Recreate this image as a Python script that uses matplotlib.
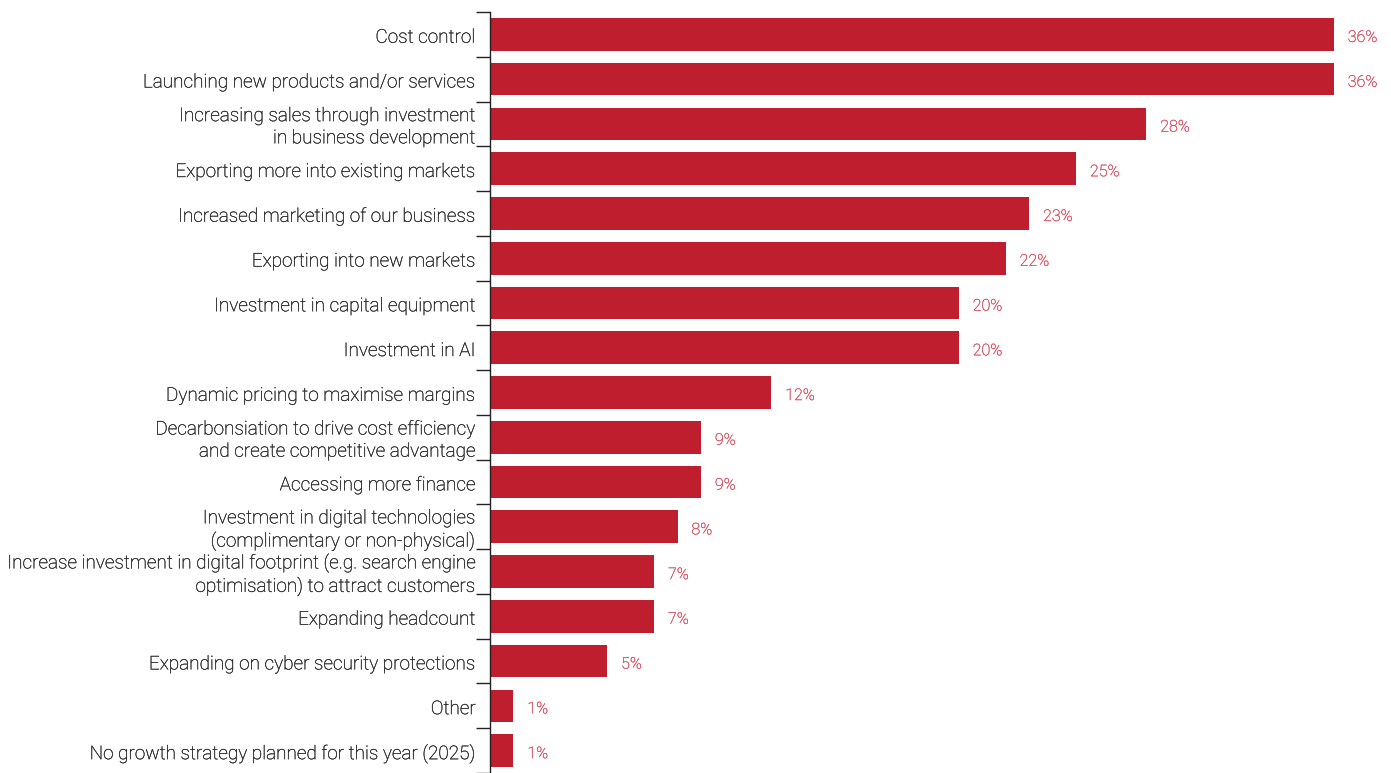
import matplotlib
matplotlib.use("Agg")
import matplotlib.pyplot as plt
import matplotlib.patheffects as pe
import numpy as np

categories = [
    "Cost control",
    "Launching new products and/or services",
    "Increasing sales through investment\nin business development",
    "Exporting more into existing markets",
    "Increased marketing of our business",
    "Exporting into new markets",
    "Investment in capital equipment",
    "Investment in AI",
    "Dynamic pricing to maximise margins",
    "Decarbonsiation to drive cost efficiency\nand create competitive advantage",
    "Accessing more finance",
    "Investment in digital technologies\n(complimentary or non-physical)",
    "Increase investment in digital footprint (e.g. search engine\noptimisation) to attract customers",
    "Expanding headcount",
    "Expanding on cyber security protections",
    "Other",
    "No growth strategy planned for this year (2025)",
]
values = [36, 36, 28, 25, 23, 22, 20, 20, 12, 9, 9, 8, 7, 7, 5, 1, 1]

bar_color = "#BE1E2D"
value_color = "#D6495A"
text_color = "#2A2A2A"

plt.rcParams['font.family'] = ['Roboto', 'DejaVu Sans']

fig = plt.figure(figsize=(13.91, 7.73), dpi=100)
ax = fig.add_axes([490/1391, 0.0, 1 - 490/1391, 1 - 12/773])

n = len(categories)
y = np.arange(n)
ax.barh(y, values, height=0.73, color=bar_color)
ax.set_ylim(n - 0.5, -0.5)
ax.set_xlim(0, (1391 - 490) / 23.44)

for yi, v in zip(y, values):
    ax.annotate(f"{v}%", xy=(v, yi), xytext=(10, -2.2), textcoords="offset points",
                va="center", ha="left", color=value_color, fontsize=11.6,
                fontweight="light",
                path_effects=[pe.withStroke(linewidth=0.2, foreground=value_color)])

for yi, c in zip(y, categories):
    ax.annotate(c, xy=(0, yi), xycoords=("axes fraction", "data"),
                xytext=(-10.3, -2.4), textcoords="offset points",
                va="center", ha="right", color=text_color, fontsize=13.65,
                fontweight="light", linespacing=1.3, annotation_clip=False,
                path_effects=[pe.withStroke(linewidth=0.22, foreground=text_color)])

# boundary ticks
ax.set_yticks(np.arange(-0.5, n, 1.0))
ax.set_yticklabels([])
ax.tick_params(axis="y", which="major", length=10, width=1, color="#222222")

ax.set_xticks([])
for s in ["top", "right", "bottom"]:
    ax.spines[s].set_visible(False)
ax.spines["left"].set_color("#222222")
ax.spines["left"].set_linewidth(1)

fig.savefig("out.png", dpi=100)
